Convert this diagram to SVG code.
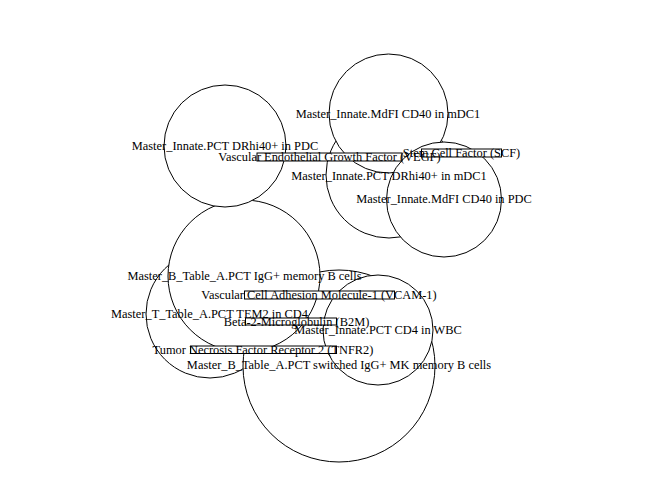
<svg xmlns="http://www.w3.org/2000/svg" width="672" height="480" viewBox="0 0 672 480">
<style>
  .v { fill: #ffffff; stroke: #000000; stroke-width: 1; }
  .lbl { font-family: "Liberation Serif", "Times New Roman", serif; font-size: 12.4px; fill: #000000; text-anchor: middle; dominant-baseline: central; }
</style>
<rect x="0" y="0" width="672" height="480" fill="#ffffff"/>
<g id="edges"></g>
<g id="nodes">
  <g id="node-tem2-cd4"><circle class="v" cx="210" cy="314" r="64"/></g>
  <g id="node-switched-igg-mk"><circle class="v" cx="339" cy="366" r="96"/></g>
  <g id="node-igg-memory-b"><circle class="v" cx="244" cy="276" r="76"/></g>
  <g id="node-pct-drhi40-pdc"><circle class="v" cx="225" cy="146" r="61"/></g>
  <g id="node-pct-drhi40-mdc1"><circle class="v" cx="389" cy="175" r="63"/></g>
  <g id="node-mdfi-cd40-mdc1"><circle class="v" cx="388.5" cy="113.5" r="59.5"/></g>
  <g id="node-mdfi-cd40-pdc"><circle class="v" cx="444" cy="199.5" r="57.5"/></g>
  <g id="node-pct-cd4-wbc"><circle class="v" cx="378" cy="330" r="55"/></g>
  <g id="node-scf"><rect class="v" x="421.5" y="149" width="80" height="8"/></g>
  <g id="node-vegf"><rect class="v" x="257" y="153" width="145" height="8"/></g>
  <g id="node-vcam1"><rect class="v" x="244.5" y="291" width="150" height="8"/></g>
  <g id="node-b2m"><rect class="v" x="245.5" y="318" width="91" height="7"/></g>
  <g id="node-tnfr2"><rect class="v" x="190.5" y="346" width="146" height="7.5"/></g>
</g>
<g id="labels">
  <text class="lbl" x="225" y="146">Master_Innate.PCT DRhi40+ in PDC</text>
  <text class="lbl" x="388" y="114">Master_Innate.MdFI CD40 in mDC1</text>
  <text class="lbl" x="389" y="175.5">Master_Innate.PCT DRhi40+ in mDC1</text>
  <text class="lbl" x="444" y="199">Master_Innate.MdFI CD40 in PDC</text>
  <text class="lbl" x="329.5" y="157">Vascular Endothelial Growth Factor (VEGF)</text>
  <text class="lbl" x="461.5" y="152.5">Stem Cell Factor (SCF)</text>
  <text class="lbl" x="244.5" y="276">Master_B_Table_A.PCT IgG+ memory B cells</text>
  <text class="lbl" x="319" y="295">Vascular Cell Adhesion Molecule-1 (VCAM-1)</text>
  <text class="lbl" x="209.5" y="314">Master_T_Table_A.PCT TEM2 in CD4</text>
  <text class="lbl" x="296.5" y="322">Beta-2-Microglobulin (B2M)</text>
  <text class="lbl" x="378" y="330">Master_Innate.PCT CD4 in WBC</text>
  <text class="lbl" x="263" y="350">Tumor Necrosis Factor Receptor 2 (TNFR2)</text>
  <text class="lbl" x="339" y="365">Master_B_Table_A.PCT switched IgG+ MK memory B cells</text>
</g>
</svg>
